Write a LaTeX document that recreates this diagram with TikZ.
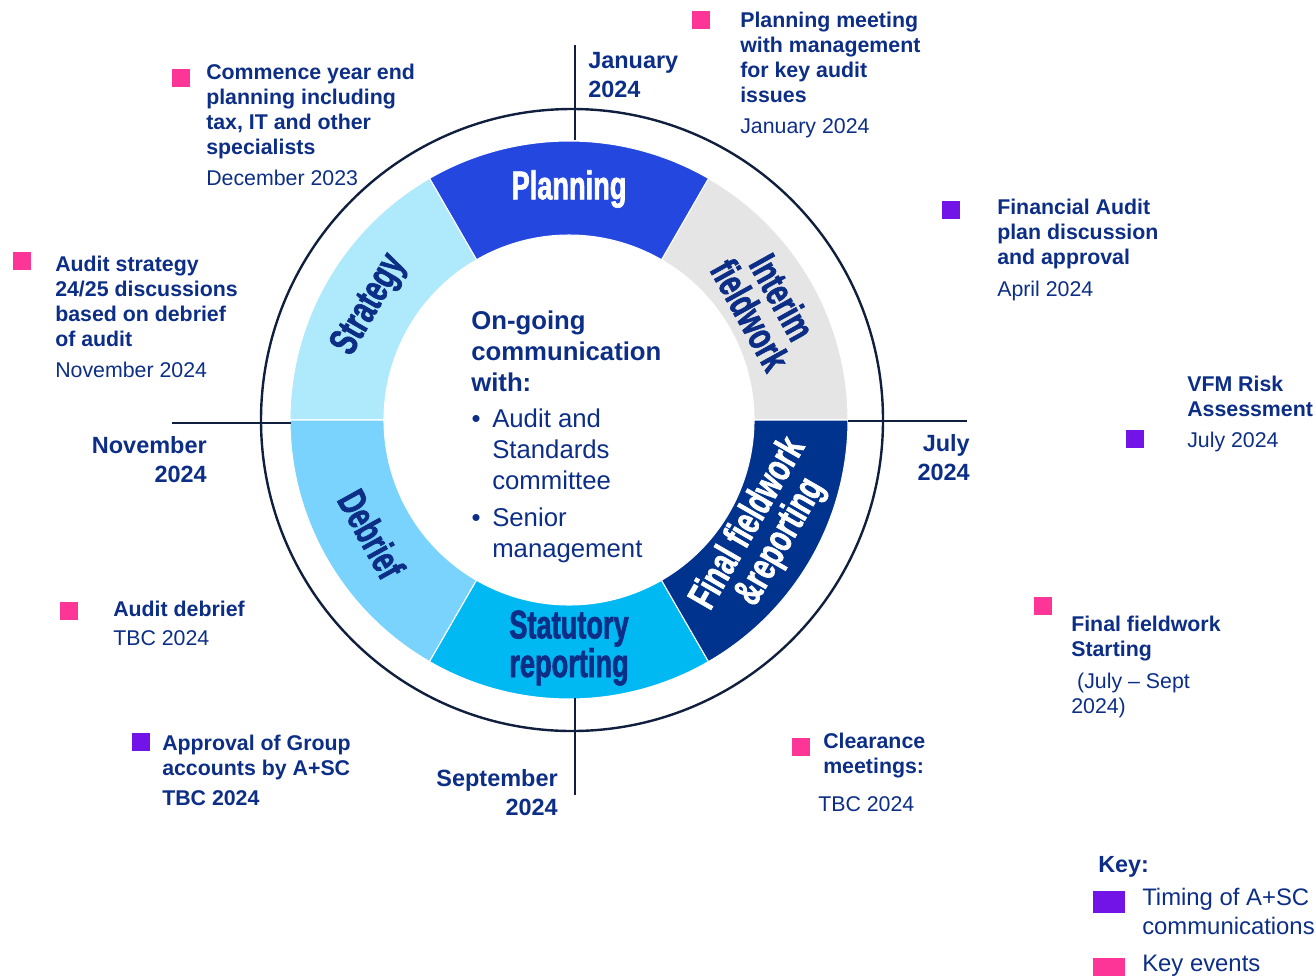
\documentclass[tikz,border=0pt]{standalone}
\usepackage{fontspec}
\setmainfont{Liberation Sans}
\newfontfamily\condfont[FakeStretch=0.68,FakeBold=1.6]{Liberation Sans}
\definecolor{navy}{HTML}{0C2E86}
\definecolor{ringline}{HTML}{0F1F3D}
\definecolor{planc}{HTML}{2447E0}
\definecolor{greyc}{HTML}{E5E5E5}
\definecolor{finalc}{HTML}{00338D}
\definecolor{statc}{HTML}{00B8F2}
\definecolor{debc}{HTML}{7AD3FC}
\definecolor{stratc}{HTML}{AEEAFC}
\definecolor{pinkc}{HTML}{FC3597}
\definecolor{purplec}{HTML}{7214E8}
\begin{document}
\begin{tikzpicture}[x=0.75pt,y=-0.75pt,
  ann/.style={anchor=north west, inner sep=0, align=left, text=navy, font=\fontsize{16}{18.75}\selectfont\bfseries},
  datetxt/.style={anchor=north west, inner sep=0, align=left, text=navy, font=\fontsize{16}{18.75}\selectfont},
  month/.style={inner sep=0, text=navy, font=\fontsize{17.6}{21.75}\selectfont\bfseries},
  seg/.style={inner sep=0, align=center, font=\condfont\bfseries\fontsize{30}{27.5}\selectfont},
  psq/.style={fill=pinkc, minimum size=13.5pt, inner sep=0},
  vsq/.style={fill=purplec, minimum size=13.5pt, inner sep=0},
  tick/.style={draw=ringline, line width=1.8pt},
  centre/.style={anchor=north west, inner sep=0, align=left, text=navy, font=\fontsize{19.3}{23.25}\selectfont}
]
\useasboundingbox (0,0) rectangle (1316,975);

% ring segments
\begin{scope}[shift={(569,420)}]
\foreach \a/\b/\c in {0/60/greyc,60/120/planc,120/180/stratc,180/240/debc,240/300/statc,300/360/finalc}
  \filldraw[fill=\c, draw=white, line width=0.8pt] (-\a:279) arc[start angle=-\a, end angle=-\b, radius=279]
     -- (-\b:185) arc[start angle=-\b, end angle=-\a, radius=185] -- cycle;
\node[seg, text=white] (lplan) at (-90:231) {Planning};
\node[seg, text=navy, rotate=-61] (lint) at (-30:228) {Interim\\fieldwork};
\node[seg, text=white, rotate=60] (lfin) at (30:226) {Final fieldwork\\\&reporting};
\node[seg, text=navy] (lstat) at (90:228) {Statutory\\reporting};
\node[seg, text=navy, rotate=-61] (ldeb) at (150:228) {Debrief};
\node[seg, text=navy, rotate=60] (lstrat) at (-150:230) {Strategy};
\end{scope}

% outer circle and ticks
\draw[tick] (572,420) circle[radius=311];
\draw[tick] (575,45) -- (575,140);
\draw[tick] (575,698) -- (575,795);
\draw[tick] (172,423) -- (291,423);
\draw[tick] (848,421) -- (967,421);

% month labels
\node[month, anchor=north west, align=left] (jan) at (588,51.6) {January\\2024};
\node[month, anchor=north east, align=right] (jul) at (970,434.6) {July\\2024};
\node[month, anchor=north east, align=right] (sep) at (558,769.6) {September\\2024};
\node[month, anchor=north east, align=right] (nov) at (207,436.6) {November\\2024};

% centre text
\node[centre, font=\fontsize{19.3}{23.25}\selectfont\bfseries] (ctitle) at (471,310.8) {On-going\\communication\\with:};
\node[centre, anchor=base] (b1) at (476,427.2) {•};
\node[centre] (c1) at (492,408.8) {Audit and\\Standards\\committee};
\node[centre, anchor=base] (b2) at (476,526.2) {•};
\node[centre] (c2) at (492,507.8) {Senior\\management};

% annotations
\node[psq] (s1) at (181,78) {};
\node[ann] (t1) at (206,63.4) {Commence year end\\planning including\\tax, IT and other\\specialists};
\node[datetxt] (d1) at (206,169.4) {December 2023};

\node[psq] (s2) at (701,20) {};
\node[ann] (t2) at (740,11.4) {Planning meeting\\with management\\for key audit\\issues};
\node[datetxt] (d2) at (740,118.4) {January 2024};

\node[vsq] (s3) at (951,210) {};
\node[ann] (t3) at (997,198.4) {Financial Audit\\plan discussion\\and approval};
\node[datetxt] (d3) at (997,280.4) {April 2024};

\node[ann] (t4) at (1187,375.4) {VFM Risk\\Assessment};
\node[vsq] (s4) at (1135,439) {};
\node[datetxt] (d4) at (1187,431.4) {July 2024};

\node[psq] (s5) at (1043,606) {};
\node[ann] (t5) at (1071,615.4) {Final fieldwork\\Starting};
\node[datetxt] (d5) at (1071,672.4) {\ (July – Sept\\2024)};

\node[psq] (s6) at (801,747) {};
\node[ann] (t6) at (823,732.4) {Clearance\\meetings:};
\node[datetxt] (d6) at (818,796.4) {TBC 2024};

\node[vsq] (s7) at (141,742) {};
\node[ann] (t7) at (162,734.4) {Approval of Group\\accounts by A+SC};
\node[ann] (d7) at (162,790.4) {TBC 2024};

\node[psq] (s8) at (69,611) {};
\node[ann] (t8) at (113,600.4) {Audit debrief};
\node[datetxt] (d8) at (113,630.4) {TBC 2024};

\node[psq] (s9) at (22,261) {};
\node[ann] (t9) at (55,255.4) {Audit strategy\\24/25 discussions\\based on debrief\\of audit};
\node[datetxt] (d9) at (55,361.4) {November 2024};

% key
\node[anchor=north west, inner sep=0, text=navy, font=\fontsize{17.5}{21.75}\selectfont\bfseries] (keyt) at (1098,855.7) {Key:};
\node[fill=purplec, minimum width=24pt, minimum height=16.5pt, inner sep=0] (k1) at (1109,902) {};
\node[anchor=north west, inner sep=0, align=left, text=navy, font=\fontsize{17.9}{21.75}\selectfont] (k1t) at (1142,888.4) {Timing of A+SC\\communications};
\node[fill=pinkc, minimum width=24pt, minimum height=16.5pt, inner sep=0] (k2) at (1109,969) {};
\node[anchor=north west, inner sep=0, text=navy, font=\fontsize{17.9}{21.75}\selectfont] (k2t) at (1142,954.4) {Key events};
\end{tikzpicture}
\end{document}
